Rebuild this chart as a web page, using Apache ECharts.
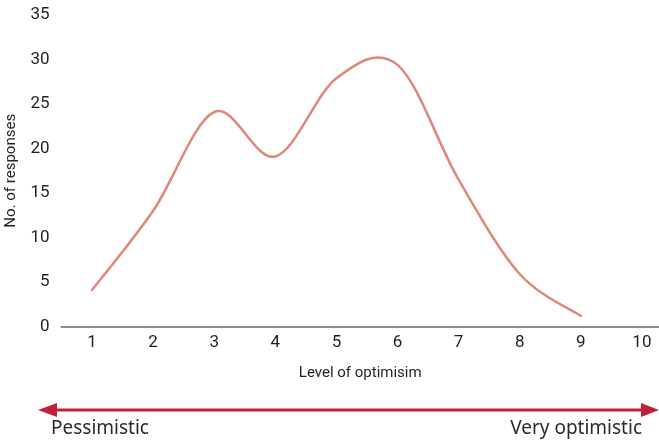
<!DOCTYPE html>
<html>
<head>
<meta charset="utf-8">
<script src="https://cdn.jsdelivr.net/npm/echarts@6/dist/echarts.min.js"></script>
<style>
html,body{margin:0;padding:0;background:#fff;}
#c{width:659px;height:442px;}
</style>
</head>
<body>
<div id="c"></div>
<script>
// Data
var levels = [1, 2, 3, 4, 5, 6, 7, 8, 9];
var responses = [4.1, 13.0, 24.1, 19.1, 27.9, 29.4, 16.5, 5.9, 1.2];
var xTickLabels = [1, 2, 3, 4, 5, 6, 7, 8, 9, 10];
var yMin = 0, yMax = 35, yStep = 5;

var seriesData = levels.map(function (x, i) { return [x, responses[i]]; });

var chart = echarts.init(document.getElementById('c'), null, {renderer: 'canvas'});
var fam = 'Roboto, "Noto Sans", sans-serif';
var textColor = '#231f20';
var tickFont = {fontFamily: fam, fontSize: 17, color: textColor};
var nameFont = {fontFamily: fam, fontSize: 15, color: textColor};

// Smooth curve (Catmull-Rom) through the data points, positioned by the chart's own axes
function renderCurve(params, api) {
  if (params.dataIndex !== 0) return null;
  var pts = seriesData.map(function (d) { return api.coord(d); });
  var n = pts.length;
  var path = 'M' + pts[0][0] + ' ' + pts[0][1];
  for (var i = 0; i < n - 1; i++) {
    var p0 = pts[i > 0 ? i - 1 : 0], p1 = pts[i], p2 = pts[i + 1], p3 = pts[i + 2 < n ? i + 2 : n - 1];
    var c1x = p1[0] + (p2[0] - p0[0]) / 6, c1y = p1[1] + (p2[1] - p0[1]) / 6;
    var c2x = p2[0] - (p3[0] - p1[0]) / 6, c2y = p2[1] - (p3[1] - p1[1]) / 6;
    path += ' C' + c1x + ' ' + c1y + ' ' + c2x + ' ' + c2y + ' ' + p2[0] + ' ' + p2[1];
  }
  return {
    type: 'path',
    shape: {pathData: path},
    style: {stroke: '#de887c', lineWidth: 2.5, fill: null, lineCap: 'round', lineJoin: 'round'}
  };
}

chart.setOption({
  animation: false,
  grid: {left: 61.5, right: 0, top: 15, bottom: 115.5, containLabel: false, outerBoundsMode: 'none'},
  xAxis: {
    type: 'value',
    min: 0.5,
    max: 10.28,
    name: 'Level of optimisim',
    nameLocation: 'middle',
    nameGap: 39,
    nameTextStyle: nameFont,
    axisLine: {show: true, lineStyle: {color: '#8c8c8c', width: 2}},
    axisTick: {show: false},
    splitLine: {show: false},
    axisLabel: Object.assign({customValues: xTickLabels, margin: 8}, tickFont)
  },
  yAxis: {
    type: 'value',
    min: yMin, max: yMax, interval: yStep,
    name: 'No. of responses',
    nameLocation: 'middle',
    nameGap: 43,
    nameRotate: 90,
    nameTextStyle: nameFont,
    axisLine: {show: false},
    axisTick: {show: false},
    splitLine: {show: false},
    axisLabel: Object.assign({margin: 12}, tickFont)
  },
  series: [{
    type: 'custom',
    data: seriesData,
    encode: {x: 0, y: 1},
    renderItem: renderCurve,
    silent: true
  }],
  graphic: [
    {type: 'line', shape: {x1: 54, y1: 410, x2: 644, y2: 410}, style: {stroke: '#c21f3a', lineWidth: 3}},
    {type: 'polygon', shape: {points: [[38, 410], [57, 403], [57, 417]]}, style: {fill: '#c21f3a'}},
    {type: 'polygon', shape: {points: [[659, 410], [641, 403], [641, 417]]}, style: {fill: '#c21f3a'}},
    {type: 'text', left: 51, top: 419, style: {text: 'Pessimistic', font: '19px "Noto Sans", sans-serif', fill: '#2b2b2b'}},
    {type: 'text', right: 17, top: 419, style: {text: 'Very optimistic', font: '19px "Noto Sans", sans-serif', fill: '#2b2b2b'}}
  ]
});
</script>
</body>
</html>
